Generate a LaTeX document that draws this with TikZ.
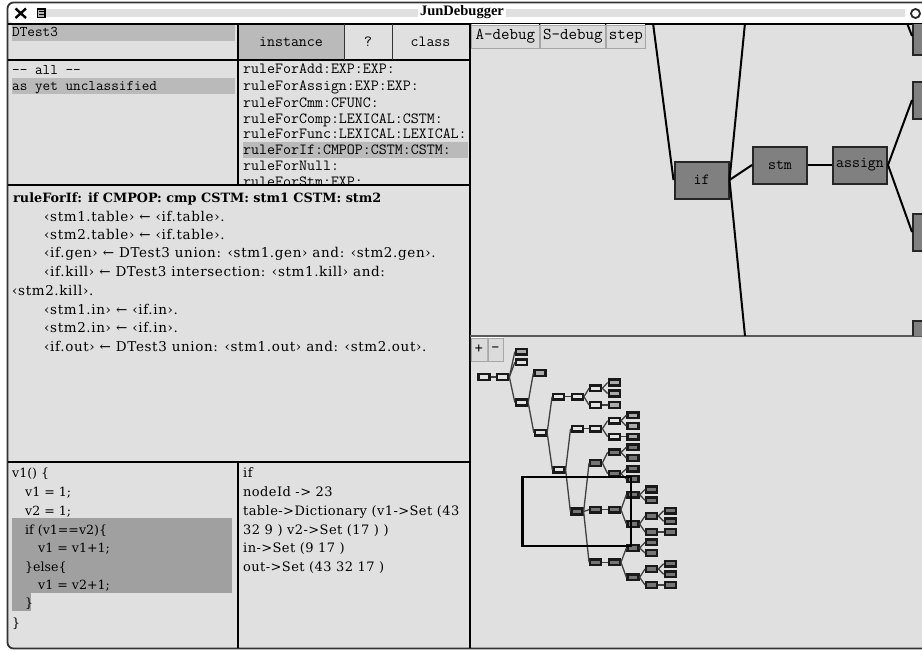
\documentclass[tikz,border=0pt]{standalone}
\usepackage{fontspec}
\newfontfamily\djs{DejaVu Serif}
\newfontfamily\djw[LetterSpace=4.7]{DejaVu Serif}
\newfontfamily\dji[LetterSpace=3.2]{DejaVu Serif}
\newfontfamily\lbs{Liberation Serif}
\definecolor{panel}{HTML}{E0E0E0}
\definecolor{band}{HTML}{BABABA}
\definecolor{code}{HTML}{A0A0A0}
\definecolor{bigfill}{HTML}{808080}
\definecolor{mlight}{HTML}{E4E4E4}
\definecolor{mmed}{HTML}{ABABAB}
\definecolor{mdark}{HTML}{757575}
\tikzset{
  basetxt/.style={anchor=west,inner sep=0,text height=10.5pt,text depth=2.5pt},
  monotxt/.style={basetxt,font=\fontsize{14.8}{16}\selectfont\ttfamily},
  ruletxt/.style={basetxt,font=\fontsize{15.5}{16}\selectfont\ttfamily},
  srftxt/.style={basetxt,font=\fontsize{13.5}{15}\selectfont\djw},
  infotxt/.style={basetxt,font=\fontsize{13}{15}\selectfont\dji},
  codetxt/.style={basetxt,font=\fontsize{12.6}{15}\selectfont\djs},
  boldtxt/.style={basetxt,font=\fontsize{12.8}{15}\selectfont\djs\bfseries},
  divline/.style={draw=black,line width=2pt},
  thindiv/.style={draw=black!80,line width=1pt},
  bevel/.style={anchor=north west,inner sep=0,minimum height=23pt,draw=black!35,fill=black!14,line width=.8pt,
    font=\fontsize{16.5}{16}\selectfont\ttfamily,
    path picture={\draw[white,line width=2pt] (path picture bounding box.south west)--(path picture bounding box.north west)--(path picture bounding box.north east);}},
  bigbox/.style={draw=black!85,fill=bigfill,line width=2pt,inner sep=0,minimum width=54pt,minimum height=37pt,font=\fontsize{15.5}{16}\selectfont\ttfamily},
  mini/.style={draw=black!90,line width=2.3pt,inner sep=0,minimum width=11pt,minimum height=5.8pt},
  ml/.style={mini,fill=mlight},
  mm/.style={mini,fill=mmed},
  md/.style={mini,fill=mdark},
  medge/.style={draw=black!75,line width=1.3pt},
  bigedge/.style={draw=black,line width=2pt},
}
\begin{document}
\begin{tikzpicture}[x=1pt,y=-1pt]
\useasboundingbox (0,0) rectangle (922,651);
\fill[white] (0,0) rectangle (922,651);
% window
\fill[panel,rounded corners=6pt] (8,3) rectangle (935,648);
\fill[white,rounded corners=6pt] (8,3) -- (935,3) -- (935,23) -- (8,23) -- cycle;
\fill[panel] (46,9) rectangle (905,17);
\draw[black!80,line width=1.8pt,rounded corners=6pt] (935,2.5) -- (7.5,2.5) -- (7.5,648.5) -- (935,648.5);
\node[inner sep=2pt,fill=white,font=\fontsize{14.5}{16}\selectfont\lbs\bfseries] (title) at (462,12.5) {JunDebugger};
\draw[black,line width=2.4pt] (15.5,8.5) -- (26,18) (26,8.5) -- (15.5,18);
\draw[black,fill=black!30,line width=1.2pt] (37.5,9) rectangle (45,17.5);
\draw[black,line width=1pt] (39,11.5) -- (43.5,11.5) (39,14) -- (43.5,14);
\draw[black!85,line width=1.8pt] (915.5,13.5) circle (4.5pt);
% highlight bands
\fill[band] (12,24.5) rectangle (235,40.5);
\fill[band] (239,24.5) rectangle (343.5,59.5);
\fill[band] (12,78) rectangle (235,94);
\fill[band] (243,142) rectangle (468,158);
\fill[code] (12,518) rectangle (232,592.5);
\fill[code] (12,592.5) rectangle (31,611);
% dividers
\draw[divline] (8,23.5) -- (922,23.5);
\draw[divline] (8,60) -- (469,60);
\draw[divline] (8,184.5) -- (469,184.5);
\draw[divline] (8,461.5) -- (469,461.5);
\draw[divline] (237.5,23.5) -- (237.5,184.5);
\draw[divline] (237.5,461.5) -- (237.5,648);
\draw[divline] (469.5,23.5) -- (469.5,648);
\draw[thindiv] (344,23.5) -- (344,60);
\draw[thindiv] (392,23.5) -- (392,60);
\draw[black!65,line width=2pt] (470,336) -- (922,336);
% header texts
\node[monotxt] (cls) at (12,32) {DTest3};
\node[ruletxt,anchor=center] (binst) at (291,42) {instance};
\node[ruletxt,anchor=center] (bq) at (368,42) {?};
\node[ruletxt,anchor=center] (bcls) at (430.5,42) {class};
\node[monotxt] (catall) at (12,70) {-- all --};
\node[monotxt] (catun) at (12,86) {as yet unclassified};
\begin{scope}
\clip (239,62) rectangle (469,183.5);
\node[ruletxt] (r1) at (243,69.5) {ruleForAdd:EXP:EXP:};
\node[ruletxt] (r2) at (243,86.5) {ruleForAssign:EXP:EXP:};
\node[ruletxt] (r3) at (243,103) {ruleForCmm:CFUNC:};
\node[ruletxt] (r4) at (243,119) {ruleForComp:LEXICAL:CSTM:};
\node[ruletxt] (r5) at (243,134.5) {ruleForFunc:LEXICAL:LEXICAL:};
\node[ruletxt] (r6) at (243,150.5) {ruleForIf:CMPOP:CSTM:CSTM:};
\node[ruletxt] (r7) at (243,166) {ruleForNull:};
\node[ruletxt] (r8) at (243,182) {ruleForStm:EXP:};
\end{scope}
% rule source
\node[boldtxt] (s0) at (13,198) {ruleForIf: if CMPOP: cmp CSTM: stm1 CSTM: stm2};
\node[srftxt] (s1) at (44,217) {‹stm1.table› ← ‹if.table›.};
\node[srftxt] (s2) at (44,235) {‹stm2.table› ← ‹if.table›.};
\node[srftxt] (s3) at (44,253.5) {‹if.gen› ← DTest3 union: ‹stm1.gen› and: ‹stm2.gen›.};
\node[srftxt] (s4) at (44,272) {‹if.kill› ← DTest3 intersection: ‹stm1.kill› and:};
\node[srftxt] (s5) at (12,291) {‹stm2.kill›.};
\node[srftxt] (s6) at (44,310) {‹stm1.in› ← ‹if.in›.};
\node[srftxt] (s7) at (44,328.5) {‹stm2.in› ← ‹if.in›.};
\node[srftxt] (s8) at (44,347) {‹if.out› ← DTest3 union: ‹stm1.out› and: ‹stm2.out›.};
% code
\node[codetxt] (c0) at (12,473) {v1() \{};
\node[codetxt] (c1) at (25,492) {v1 = 1;};
\node[codetxt] (c2) at (25,511) {v2 = 1;};
\node[codetxt] (c3) at (25,530) {if (v1==v2)\{};
\node[codetxt] (c4) at (38,548) {v1 = v1+1;};
\node[codetxt] (c5) at (25,567) {\}else\{};
\node[codetxt] (c6) at (38,585) {v1 = v2+1;};
\node[codetxt] (c7) at (25,603) {\}};
\node[codetxt] (c8) at (12,623) {\}};
% info
\node[infotxt] (i0) at (243,473) {if};
\node[infotxt] (i1) at (243,492) {nodeId -> 23};
\node[infotxt] (i2) at (243,511) {table->Dictionary (v1->Set (43};
\node[infotxt] (i3) at (243,530) {32 9 ) v2->Set (17 ) )};
\node[infotxt] (i4) at (243,548) {in->Set (9 17 )};
\node[infotxt] (i5) at (243,567) {out->Set (43 32 17 )};
% upper tree view
\begin{scope}
\clip (470.5,24.5) rectangle (922,335);
\node[bigbox] (uif) at (701.5,180) {if};
\node[bigbox] (ustm) at (780,165) {stm};
\node[bigbox] (uasg) at (860,165) {assign};
\node[bigbox,anchor=west] (ur0) at (912,36) {};
\node[bigbox,anchor=west] (ur1) at (912,100) {};
\node[bigbox,anchor=west] (ur2) at (912,232) {};
\node[bigbox,anchor=west] (ur3) at (912,339) {};
\coordinate (up1) at (653,23);
\coordinate (up2) at (745,23);
\coordinate (up3) at (745,336);
\coordinate (up4) at (907,23);
\draw[bigedge] (up1) -- (uif.west);
\draw[bigedge] (uif.east) -- (up2);
\draw[bigedge] (uif.east) -- (ustm.west);
\draw[bigedge] (uif.east) -- (up3);
\draw[bigedge] (ustm.east) -- (uasg.west);
\draw[bigedge] (uasg.east) -- (ur1.west);
\draw[bigedge] (uasg.east) -- (ur2.west);
\draw[bigedge] (up4) -- (ur0.west);
\end{scope}
\node[bevel,minimum width=68pt] (ba) at (471,24.5) {A-debug};
\node[bevel,minimum width=65pt] (bs) at (540,24.5) {S-debug};
\node[bevel,minimum width=39pt] (bst) at (606,24.5) {step};
\node[bevel,minimum width=16pt] (bp) at (470.5,337.5) {+};
\node[bevel,minimum width=15pt] (bm) at (487.5,337.5) {-};
% mini tree nodes
\node[mm] (a1) at (521.5,351.7) {};
\node[ml] (a2) at (521.5,362.3) {};
\node[ml] (a3) at (484,377) {};
\node[ml] (a4) at (502.7,377) {};
\node[mm] (a5) at (540,373) {};
\node[ml] (a6) at (521.5,402.5) {};
\node[ml] (a7) at (558.7,396.7) {};
\node[ml] (a8) at (577.3,396.7) {};
\node[ml] (a9) at (595.7,388.3) {};
\node[ml] (a10) at (595.7,405) {};
\node[mm] (a11) at (614.3,382.5) {};
\node[mm] (a12) at (614.3,393.5) {};
\node[mm] (a13) at (614.3,405) {};
\node[ml] (b1) at (540.5,432.7) {};
\node[ml] (b2) at (577.2,428.7) {};
\node[ml] (b3) at (595.7,428.7) {};
\node[ml] (b4) at (614.3,420.7) {};
\node[ml] (b5) at (614.3,436.7) {};
\node[mm] (b6) at (633,415.3) {};
\node[mm] (b7) at (633,426) {};
\node[mm] (b8) at (633,436.7) {};
\node[ml] (b9) at (559,469.7) {};
\node[md] (f) at (577,511.5) {};
\node[md] (g1) at (595.7,463) {};
\node[md] (g2) at (614.3,452.3) {};
\node[md] (g3) at (614.3,473.7) {};
\node[md] (g4) at (633,447.3) {};
\node[md] (g5) at (633,458) {};
\node[md] (g6) at (633,468.7) {};
\node[md] (g7) at (633,479) {};
\node[md] (h1) at (595.7,509.7) {};
\node[md] (h2) at (614.3,509.7) {};
\node[md] (h3) at (633,494.7) {};
\node[md] (h4) at (633,524) {};
\node[md] (h5) at (651.7,489.5) {};
\node[md] (h6) at (651.7,500.3) {};
\node[md] (h7) at (651.7,516) {};
\node[md] (h8) at (651.7,532) {};
\node[md] (h9) at (670.3,510.7) {};
\node[md] (h10) at (670.3,521.3) {};
\node[md] (h11) at (670.3,532) {};
\node[md] (k1) at (595.7,562.3) {};
\node[md] (k2) at (614.3,562.3) {};
\node[md] (k3) at (633,548) {};
\node[md] (k4) at (633,577.3) {};
\node[md] (k5) at (651.7,542.3) {};
\node[md] (k6) at (651.7,553) {};
\node[md] (k7) at (651.7,569) {};
\node[md] (k8) at (651.7,585) {};
\node[md] (k9) at (670.3,563.7) {};
\node[md] (k10) at (670.3,574.3) {};
\node[md] (k11) at (670.3,585) {};
% mini tree edges
\foreach \p/\c in {a3/a4,a4/a1,a4/a2,a4/a6,a6/a5,a6/b1,b1/a7,a7/a8,a8/a9,a8/a10,a9/a11,a9/a12,a10/a13,
  b1/b9,b9/b2,b2/b3,b3/b4,b3/b5,b4/b6,b4/b7,b5/b8,b9/f,f/g1,f/h1,f/k1,
  g1/g2,g1/g3,g2/g4,g2/g5,g3/g6,g3/g7,h1/h2,h2/h3,h2/h4,h3/h5,h3/h6,h4/h7,h4/h8,h7/h9,h7/h10,h8/h11,
  k1/k2,k2/k3,k2/k4,k3/k5,k3/k6,k4/k7,k4/k8,k7/k9,k7/k10,k8/k11}
  \draw[medge] (\p.east) -- (\c.west);
% viewport rectangle
\draw[black,line width=2.8pt] (522.7,477) rectangle (631,546);
\end{tikzpicture}
\end{document}
